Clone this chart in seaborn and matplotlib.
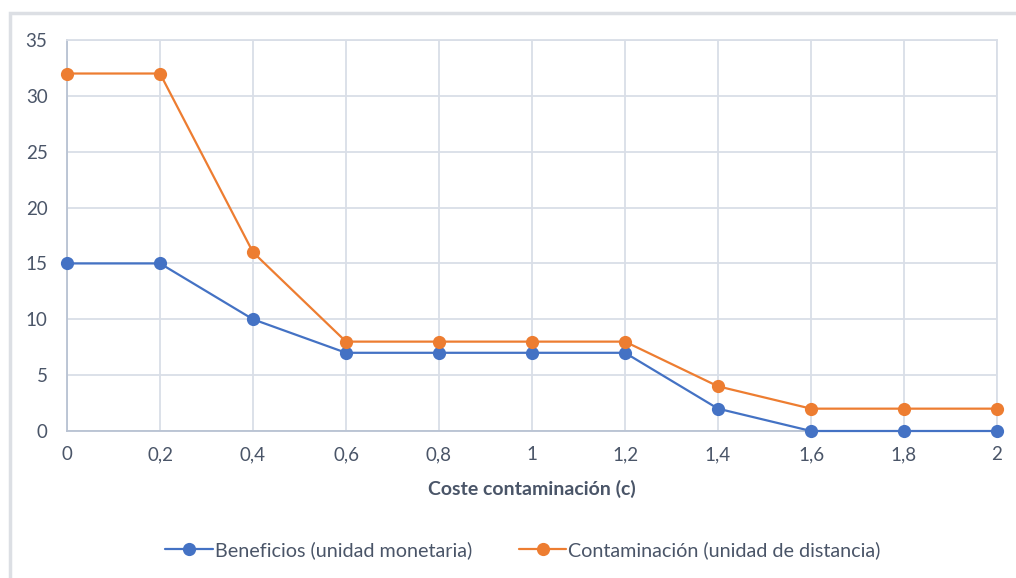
import matplotlib
matplotlib.use("Agg")
import matplotlib.pyplot as plt
from matplotlib.patches import Rectangle
from matplotlib.lines import Line2D
import seaborn as sns
import pandas as pd

# Data
coste = [0, 0.2, 0.4, 0.6, 0.8, 1.0, 1.2, 1.4, 1.6, 1.8, 2.0]
x_labels = ["0", "0,2", "0,4", "0,6", "0,8", "1", "1,2", "1,4", "1,6", "1,8", "2"]
beneficios = [15, 15, 10, 7, 7, 7, 7, 2, 0, 0, 0]
contaminacion = [32, 32, 16, 8, 8, 8, 8, 4, 2, 2, 2]
serie_beneficios = "Beneficios (unidad monetaria)"
serie_contaminacion = "Contaminación (unidad de distancia)"
y_ticks = [0, 5, 10, 15, 20, 25, 30, 35]

df = pd.DataFrame({
    "coste": coste * 2,
    "valor": beneficios + contaminacion,
    "serie": [serie_beneficios] * len(coste) + [serie_contaminacion] * len(coste),
})

sns.set_style("white")
plt.rcParams["font.family"] = ["Lato", "DejaVu Sans"]

text_color = "#4a5568"
grid_color = "#d9dee7"
axis_color = "#b8c2d2"

fig = plt.figure(figsize=(10.16, 5.78), dpi=100)
ax = fig.add_axes([67 / 1016, 1 - 431 / 578, (997 - 67) / 1016, (431 - 40) / 578])

palette = {serie_beneficios: "#4472C4", serie_contaminacion: "#ED7D31"}
sns.lineplot(data=df, x="coste", y="valor", hue="serie", palette=palette,
             marker="o", markersize=9.5, markeredgewidth=0, linewidth=1.6,
             ax=ax, legend=False, clip_on=False, zorder=3)

ax.set_xlim(0, 2)
ax.set_ylim(0, 35)
ax.set_xticks(coste)
ax.set_xticklabels(x_labels)
ax.set_yticks(y_ticks)
ax.grid(True, color=grid_color, linewidth=1.3, zorder=0)
ax.set_axisbelow(True)

for side in ["top", "right"]:
    ax.spines[side].set_color(grid_color)
    ax.spines[side].set_linewidth(1.3)
for side in ["left", "bottom"]:
    ax.spines[side].set_color(axis_color)
    ax.spines[side].set_linewidth(1.3)

ax.tick_params(axis="both", length=0, labelsize=13.5, colors=text_color)
ax.tick_params(axis="x", pad=11)
ax.tick_params(axis="y", pad=14)

ax.set_xlabel("Coste contaminación (c)", fontsize=14, fontweight="bold",
              color=text_color, labelpad=12)
ax.set_ylabel("")

# Legend
handles = [Line2D([], [], color=palette[s], marker="o", markersize=9.5,
                  markeredgewidth=0, linewidth=1.6)
           for s in (serie_beneficios, serie_contaminacion)]
fig.legend(handles, [serie_beneficios, serie_contaminacion], loc="center",
           bbox_to_anchor=(523 / 1016, 1 - 550 / 578), ncol=2, frameon=False,
           fontsize=14.2, labelcolor=text_color, handlelength=2.4,
           handletextpad=0.1, columnspacing=2.4)

# Outer chart frame
fig.patches.append(Rectangle((10 / 1016, -0.05), 1.2, (578 - 13) / 578 + 0.05,
                             transform=fig.transFigure, fill=False,
                             edgecolor="#dcdfe4", linewidth=2.5, zorder=0))

fig.savefig("out.png", dpi=100)
